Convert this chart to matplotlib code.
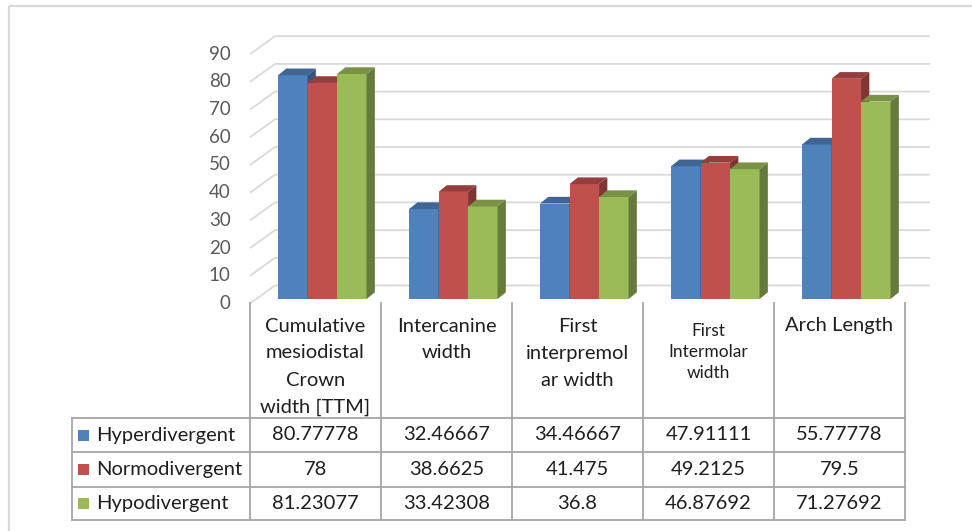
import matplotlib
matplotlib.use("Agg")
import matplotlib.pyplot as plt
from matplotlib.patches import Polygon, Rectangle
from matplotlib.colors import to_rgb

# ---- data -------------------------------------------------------------
categories = [
    "Cumulative\nmesiodistal\nCrown\nwidth [TTM]",
    "Intercanine\nwidth",
    "First\ninterpremol\nar width",
    "First\nIntermolar\nwidth",
    "Arch Length",
]
series_names = ["Hyperdivergent", "Normodivergent", "Hypodivergent"]
hyperdivergent = [80.77778, 32.46667, 34.46667, 47.91111, 55.77778]
normodivergent = [78, 38.6625, 41.475, 49.2125, 79.5]
hypodivergent = [81.23077, 33.42308, 36.8, 46.87692, 71.27692]
y_ticks = list(range(0, 100, 10))

series_values = [hyperdivergent, normodivergent, hypodivergent]
series_colors = ["#4f81bd", "#c0504d", "#9bbb59"]

# ---- geometry (pixels) ------------------------------------------------
W, H = 972, 531
BASE_Y = 299.0      # pixel row of value 0 on the bar plane
SY = 2.77           # pixels per value unit
X0 = 322.3          # pixel column of first category centre
SX = 131.0          # pixels per category
FRONT = (-6.8, 4.5)     # front plane offset from bar plane (px, down positive)
BACK = (18.2, -13.5)    # back wall offset from bar plane
DEPTH = (8.3, -6.7)     # bar depth offset
BAR_W = 29.5 / SX


def off(p):
    return p[0] / SX, -p[1] / SY


FONT = ["Lato", "DejaVu Sans"]
plt.rcParams["font.family"] = FONT

fig = plt.figure(figsize=(W / 100, H / 100), dpi=100)
ax = fig.add_axes([0, 0, 1, 1])
ax.set_xlim((0 - X0) / SX, (W - X0) / SX)
ax.set_ylim((BASE_Y - H) / SY, BASE_Y / SY)
ax.axis("off")

fx, fy = off(FRONT)
bx, by = off(BACK)
dx, dy = off(DEPTH)
x_left, x_right = -0.5, len(categories) - 0.5

# walls: back gridlines + left wall diagonals
grid_c = "#d9d9d9"
for v in y_ticks:
    ax.plot([x_left + fx, x_left + bx, x_right + bx],
            [v + fy, v + by, v + by], color=grid_c, lw=1.3,
            solid_capstyle="butt", zorder=1)
    ax.text(x_left + fx - 19.5 / SX, v + fy, str(v), ha="right", va="center",
            fontsize=13.5, color="#595959")


def shade(c, f):
    r, g, b = to_rgb(c)
    return (r * f, g * f, b * f)


# 3-D columns, drawn left to right so nearer faces overlap farther ones
n_series = len(series_values)
for j, (vals, col) in enumerate(zip(series_values, series_colors)):
    xs = [i + (j - 1) * BAR_W for i in range(len(vals))]
    bars = ax.bar(xs, vals, width=BAR_W, color=col, linewidth=0)
    for i, (rect, v) in enumerate(zip(bars, vals)):
        order = 10 + (i * n_series + j)
        rect.set_zorder(order)
        xl = xs[i] - BAR_W / 2
        xr = xs[i] + BAR_W / 2
        top = Polygon([(xl, v), (xr, v), (xr + dx, v + dy), (xl + dx, v + dy)],
                      closed=True, facecolor=shade(col, 0.78), edgecolor="none",
                      zorder=order + 0.1)
        side = Polygon([(xr, 0), (xr + dx, dy), (xr + dx, v + dy), (xr, v)],
                       closed=True, facecolor=shade(col, 0.66), edgecolor="none",
                       zorder=order + 0.2)
        ax.add_patch(top)
        ax.add_patch(side)

# ---- data table (pixel coordinates) -----------------------------------
tx = fig.add_axes([0, 0, 1, 1])
tx.set_xlim(0, W)
tx.set_ylim(H, 0)
tx.axis("off")
tx.patch.set_alpha(0)

# outer frame
fr_c = "#d9d9d9"
tx.plot([9, W], [6, 6], color=fr_c, lw=1.6, solid_capstyle="butt")
tx.plot([9, 9], [6, H], color=fr_c, lw=1.6, solid_capstyle="butt")

col_edges = [X0 + SX * (k - 0.5) + FRONT[0] for k in range(len(categories) + 1)]
row_edges = [418, 452, 487, 520]
label_left = 72
line_c = "#a6a6a6"
for x in col_edges:
    tx.plot([x, x], [303, row_edges[-1]], color=line_c, lw=1.3,
            solid_capstyle="projecting")
tx.plot([label_left, label_left], [row_edges[0], row_edges[-1]], color=line_c,
        lw=1.3, solid_capstyle="projecting")
for y in row_edges:
    tx.plot([label_left, col_edges[-1]], [y, y], color=line_c, lw=1.3,
            solid_capstyle="projecting")

# header cells
text_c = "#1f1f1f"
for k, cat in enumerate(categories):
    cx = (col_edges[k] + col_edges[k + 1]) / 2
    lines = cat.split("\n")
    small = k == 3
    step = 21 if small else 27
    y0 = 331 if small else 326
    for m, line in enumerate(lines):
        tx.text(cx, y0 + m * step, line, ha="center", va="center",
                fontsize=12.5 if small else 14.5, color=text_c)

# value rows
for r, (name, vals, col) in enumerate(zip(series_names, series_values,
                                          series_colors)):
    cy = (row_edges[r] + row_edges[r + 1]) / 2
    tx.add_patch(Rectangle((78, cy - 5.5), 11, 11, facecolor=col,
                           edgecolor="none"))
    tx.text(96, cy, name, ha="left", va="center", fontsize=14.5, color=text_c)
    for k, v in enumerate(vals):
        cx = (col_edges[k] + col_edges[k + 1]) / 2
        tx.text(cx, cy, f"{v:.10g}", ha="center", va="center", fontsize=14.5,
                color=text_c)

fig.savefig("out.png", dpi=100)
